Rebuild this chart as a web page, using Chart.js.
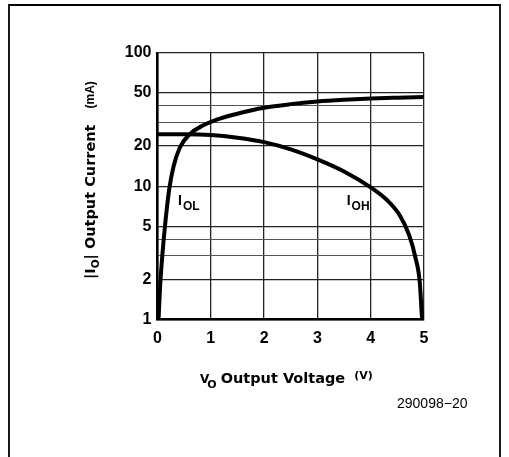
<!DOCTYPE html>
<html>
<head>
<meta charset="utf-8">
<script src="https://cdn.jsdelivr.net/npm/chart.js@4/dist/chart.umd.min.js"></script>
<style>
  html, body { margin: 0; padding: 0; background: #fff; }
  #c { display: block; }
</style>
</head>
<body>
<canvas id="c" width="509" height="457"></canvas>
<script>
// I_OL: low-level output current vs output voltage
const volOL = [0.02, 0.05, 0.09, 0.14, 0.22, 0.30, 0.42, 0.60, 0.85, 1.10, 1.50, 2.0, 2.5, 3.0, 3.5, 4.0, 4.5, 5.0];
const curOL = [1, 1.8, 3, 5, 9.5, 14, 19.5, 24.5, 28.5, 31.5, 35, 38.8, 41.3, 43.2, 44.5, 45.5, 46.2, 46.8];
// I_OH: high-level output current vs output voltage
const volOH = [0, 0.5, 1.0, 1.5, 2.0, 2.5, 3.0, 3.5, 4.0, 4.30, 4.55, 4.72, 4.84, 4.92, 4.96];
const curOH = [24.5, 24.5, 24.2, 23.1, 21.4, 18.9, 15.9, 12.9, 9.8, 7.9, 6.0, 4.3, 2.9, 1.9, 1.05];

const xTicks = [0, 1, 2, 3, 4, 5];
const yGrid = [1, 2, 3, 4, 5, 10, 20, 30, 40, 50, 100];
const yLabels = [1, 2, 5, 10, 20, 50, 100];

const TITLE_FONT = '"DejaVu Sans", sans-serif';
const TICK_FONT = '"Liberation Sans", Arial, sans-serif';

const toPts = (xs, ys) => xs.map((x, i) => ({ x, y: ys[i] }));

// draw a run of text pieces one after another, each {t, size, dy, gap, family}
function drawRun(ctx, pieces, x, y) {
  pieces.forEach(p => {
    x += p.gap || 0;
    ctx.font = `bold ${p.size}px ${p.family || TITLE_FONT}`;
    ctx.fillText(p.t, x, y + (p.dy || 0));
    x += ctx.measureText(p.t).width;
  });
}

const decor = {
  id: "decor",
  afterDraw(chart) {
    const ctx = chart.ctx, xs = chart.scales.x, ys = chart.scales.y;
    ctx.save();
    ctx.fillStyle = "#000";
    ctx.strokeStyle = "#000";
    ctx.textBaseline = "alphabetic";
    ctx.textAlign = "left";

    // page frame
    ctx.lineWidth = 1.8;
    ctx.beginPath();
    ctx.moveTo(9, 457); ctx.lineTo(9, 5); ctx.lineTo(500, 5); ctx.lineTo(500, 457);
    ctx.stroke();

    // curve labels
    const lab = (v, i, sub) => {
      const px = xs.getPixelForValue(v), py = ys.getPixelForValue(i);
      drawRun(ctx, [{ t: "I", size: 14, family: TICK_FONT }, { t: sub, size: 12, dy: 5, gap: 1, family: TICK_FONT }], px, py);
    };
    lab(0.385, 7.2, "OL");
    lab(3.55, 7.2, "OH");

    // x title
    drawRun(ctx, [
      { t: "V", size: 12 },
      { t: "O", size: 11, dy: 5, gap: -2 },
      { t: "Output Voltage", size: 14.5, gap: 4 },
      { t: "(V)", size: 11, dy: -4, gap: 9 }
    ], 200, 383);

    // y title (rotated)
    ctx.translate(95, 279);
    ctx.rotate(-Math.PI / 2);
    drawRun(ctx, [
      { t: "|I", size: 14.5 },
      { t: "O", size: 10.5, dy: 4 },
      { t: "|", size: 14.5 },
      { t: "Output Current", size: 14.5, gap: 5 },
      { t: "(mA)", size: 12, dy: -1, gap: 16, family: TICK_FONT }
    ], 0, 0);
    ctx.setTransform(1, 0, 0, 1, 0, 0);

    // figure number
    ctx.font = `14px ${TICK_FONT}`;
    ctx.fillText("290098\u221220", 397, 408);
    ctx.restore();
  }
};

const minor = v => [3, 4, 30, 40].includes(v);

new Chart(document.getElementById("c"), {
  type: "scatter",
  data: {
    datasets: [
      { label: "IOL", data: toPts(volOL, curOL) },
      { label: "IOH", data: toPts(volOH, curOH) }
    ]
  },
  options: {
    responsive: false,
    animation: false,
    layout: { padding: { top: 53, right: 85, left: 0, bottom: 0 } },
    datasets: { scatter: { showLine: true } },
    elements: {
      point: { radius: 0 },
      line: { borderColor: "#000", borderWidth: 4, cubicInterpolationMode: "monotone", borderCapStyle: "round" }
    },
    plugins: { legend: { display: false }, tooltip: { enabled: false } },
    scales: {
      x: {
        type: "linear", min: 0, max: 5,
        afterBuildTicks: s => { s.ticks = xTicks.map(v => ({ value: v })); },
        afterFit: s => { s.height = 457 - 319.3; },
        grid: { color: "#222", lineWidth: 1.3, drawTicks: false },
        border: { color: "#000", width: 2.5 },
        ticks: { color: "#000", padding: 10, font: { family: TICK_FONT, size: 16, weight: "bold" } }
      },
      y: {
        type: "logarithmic", min: 1, max: 100,
        afterBuildTicks: s => { s.ticks = yGrid.map(v => ({ value: v })); },
        afterFit: s => { s.width = 157.5; },
        grid: {
          drawTicks: false,
          color: c => (minor(c.tick && c.tick.value) ? "#555" : "#222"),
          lineWidth: c => (minor(c.tick && c.tick.value) ? 1.1 : 1.3)
        },
        border: { color: "#000", width: 2.5 },
        ticks: {
          color: "#000", padding: 6, autoSkip: false,
          font: { family: TICK_FONT, size: 16, weight: "bold" },
          callback: v => (yLabels.includes(v) ? String(v) : "")
        }
      }
    }
  },
  plugins: [decor]
});
</script>
</body>
</html>
